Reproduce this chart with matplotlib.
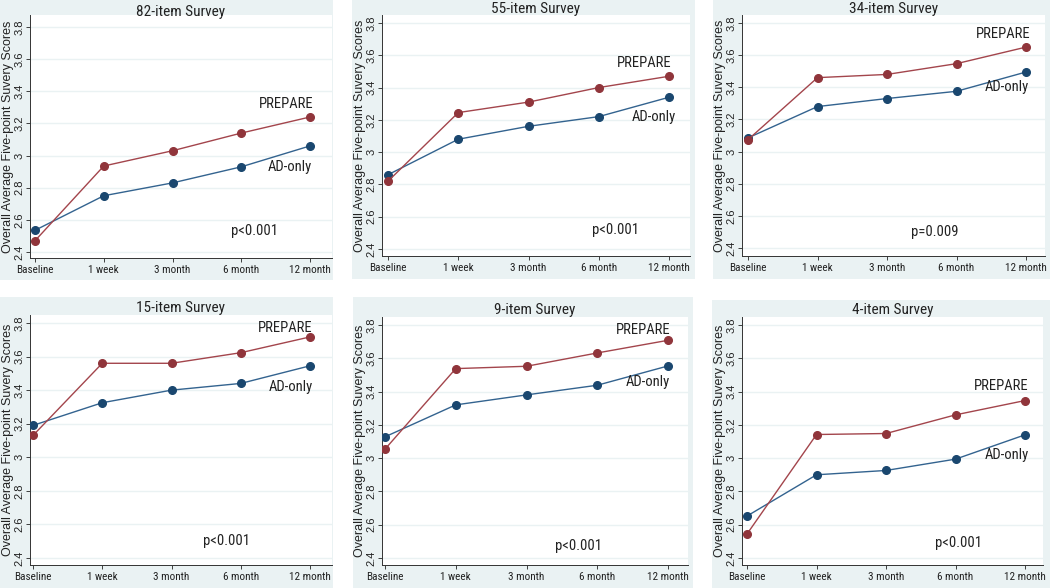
import matplotlib
matplotlib.use("Agg")
import matplotlib.pyplot as plt
from matplotlib.patches import Rectangle

plt.rcParams['font.family'] = ['Liberation Sans', 'DejaVu Sans']
NARROW = ['Roboto Condensed', 'Archivo Narrow', 'Liberation Sans', 'DejaVu Sans']

################################################################################################
# Data.

TIMEPOINTS = ["Baseline", "1 week", "3 month", "6 month", "12 month"]
Y_TICKS = [2.4, 2.6, 2.8, 3.0, 3.2, 3.4, 3.6, 3.8]
Y_TICK_LABELS = ["2.4", "2.6", "2.8", "3", "3.2", "3.4", "3.6", "3.8"]

TITLES = ["82-item Survey", "55-item Survey", "34-item Survey",
          "15-item Survey", "9-item Survey", "4-item Survey"]

PREPARE = [
    [2.47, 2.935, 3.03, 3.14, 3.24],
    [2.82, 3.245, 3.31, 3.40, 3.47],
    [3.074, 3.46, 3.48, 3.547, 3.65],
    [3.13, 3.56, 3.56, 3.623, 3.717],
    [3.054, 3.538, 3.552, 3.632, 3.708],
    [2.544, 3.142, 3.148, 3.26, 3.346],
]
AD_ONLY = [
    [2.535, 2.75, 2.83, 2.93, 3.06],
    [2.86, 3.08, 3.16, 3.22, 3.34],
    [3.085, 3.28, 3.33, 3.375, 3.495],
    [3.19, 3.325, 3.40, 3.44, 3.545],
    [3.128, 3.32, 3.38, 3.438, 3.554],
    [2.652, 2.90, 2.926, 2.994, 3.14],
]
P_VALUES = ["p<0.001", "p<0.001", "p=0.009", "p<0.001", "p<0.001", "p<0.001"]

# label positions (data coords)
PREPARE_LABEL_POS = [(3.66, 3.32), (3.65, 3.55), (3.67, 3.73), (3.64, 3.77), (3.65, 3.77), (3.66, 3.434)]
ADONLY_LABEL_POS = [(3.71, 2.93), (3.78, 3.22), (3.72, 3.40), (3.73, 3.42), (3.71, 3.456), (3.74, 3.02)]
P_LABEL_POS = [(3.2, 2.53), (3.24, 2.52), (2.69, 2.50), (2.80, 2.50), (2.73, 2.47), (3.04, 2.49)]

################################################################################################
# Layout in pixels (figure is 1050 x 588).

W, H = 1050, 588
# outer panel background: left, top, right, bottom
PANEL_BG = [(0, 0, 333, 280), (352, 0, 695, 279), (713, 0, 1050, 279),
            (0, 297, 333, 588), (353, 297, 693, 588), (712, 300, 1050, 588)]
# plot area: left, top, right, bottom
PLOT_BOX = [(30, 15, 332, 258), (382, 15, 690, 256), (742, 15, 1045, 256),
            (30, 315, 332, 565), (382, 317, 688, 565), (742, 317, 1043, 565)]
# pixel of baseline x, 12 month x, y of 3.8, y of 2.4
AXIS_REF = [(35, 310, 27, 252), (388, 669, 23, 249), (748, 1026, 23, 248),
            (33, 310, 323, 558), (385, 668, 325, 558), (747, 1025, 325, 558)]
TITLE_Y = [12, 9, 9, 308, 310, 310]

NAVY = "#1a476f"
MAROON = "#90353b"
NAVY_LINE = "#33638f"
MAROON_LINE = "#a3454c"
BG = "#eaf2f3"

fig = plt.figure(figsize=(W / 100, H / 100), dpi=100)
fig.patch.set_facecolor("white")

for i in range(6):
    bl, bt, br, bb = PANEL_BG[i]
    fig.patches.append(Rectangle((bl / W, 1 - bb / H), (br - bl) / W, (bb - bt) / H,
                                 transform=fig.transFigure, facecolor=BG, edgecolor="none", zorder=-10))

    l, t, r, b = PLOT_BOX[i]
    ax = fig.add_axes([l / W, 1 - b / H, (r - l) / W, (b - t) / H])
    ax.set_facecolor("white")

    x0, x4, y38, y24 = AXIS_REF[i]
    px_per_x = (x4 - x0) / 4.0
    px_per_y = (y24 - y38) / 1.4
    ax.set_xlim(0 - (x0 - l) / px_per_x, 4 + (r - x4) / px_per_x)
    ax.set_ylim(2.4 - (b - y24) / px_per_y, 3.8 + (y38 - t) / px_per_y)

    xs = list(range(len(TIMEPOINTS)))
    ax.plot(xs, AD_ONLY[i], color=NAVY_LINE, lw=1.0, marker="o", ms=5.5, mfc=NAVY, mec=NAVY, zorder=3)
    ax.plot(xs, PREPARE[i], color=MAROON_LINE, lw=1.0, marker="o", ms=5.5, mfc=MAROON, mec=MAROON, zorder=3)

    ax.set_yticks(Y_TICKS)
    ax.set_yticklabels(Y_TICK_LABELS, rotation=90, va="center")
    ax.set_xticks(xs)
    ax.set_xticklabels(TIMEPOINTS, family=NARROW)
    ax.grid(axis="y", color=BG, lw=1.0)
    ax.set_axisbelow(True)
    ax.tick_params(axis="y", labelsize=8, length=3, width=0.6, pad=1, colors="#222222")
    ax.tick_params(axis="x", labelsize=8, length=3, width=0.6, pad=2, colors="#222222")
    for s in ["top", "right"]:
        ax.spines[s].set_visible(False)
    for s in ["left", "bottom"]:
        ax.spines[s].set_color("#333333")
        ax.spines[s].set_linewidth(0.7)

    ax.set_ylabel("Overall Average Five-point Suvery Scores", fontsize=9, color="#222222")
    ax.yaxis.set_label_coords(-16 / (r - l), 0.5)

    px, py = PREPARE_LABEL_POS[i]
    ax.text(px, py, "PREPARE", fontsize=10.5, family=NARROW, ha="center", va="center", color="#222222")
    px, py = ADONLY_LABEL_POS[i]
    ax.text(px, py, "AD-only", fontsize=10.5, family=NARROW, ha="center", va="center", color="#222222")
    px, py = P_LABEL_POS[i]
    ax.text(px, py, P_VALUES[i], fontsize=10.5, family=NARROW, ha="center", va="center", color="#222222")

    fig.text(((l + r) / 2) / W, 1 - TITLE_Y[i] / H, TITLES[i], fontsize=11, family=NARROW,
             ha="center", va="center", color="#222222")

fig.savefig("out.png", dpi=100, facecolor="white")
